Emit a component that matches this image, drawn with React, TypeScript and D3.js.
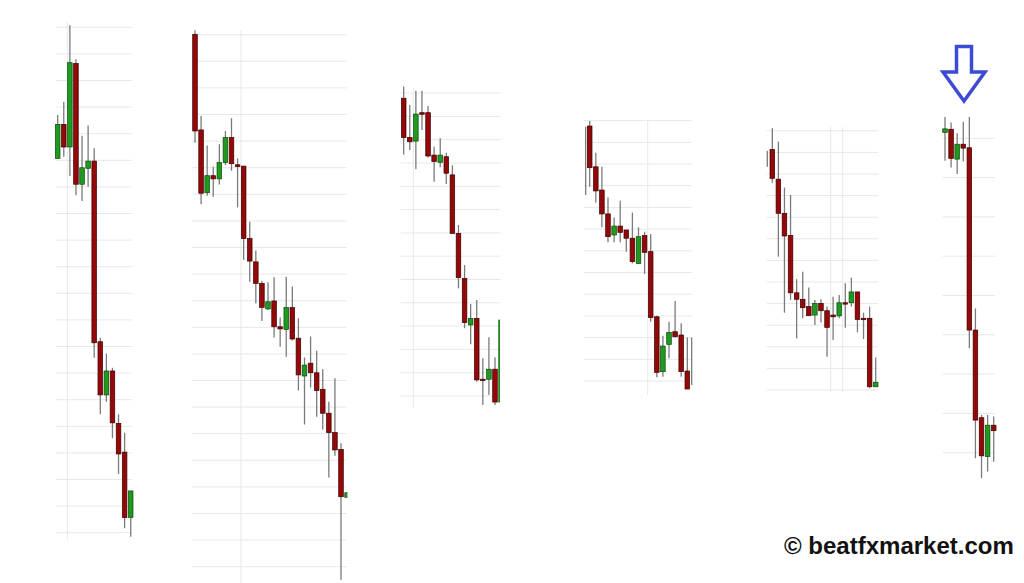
import * as d3 from 'd3';

// [open, high, low, close] in pips above each panel's lowest gridline
type Candle = [number, number, number, number];
type Wick = { i: number; high: number; low: number };

const panel1Candles: Candle[] = [
  [140.7, 157.0, 140.7, 153.5],
  [153.5, 162.0, 141.3, 145.0],
  [145.0, 190.8, 134.1, 176.7],
  [176.4, 178.0, 126.9, 131.0],
  [131.0, 149.2, 124.7, 137.2],
  [137.0, 153.1, 130.1, 139.7],
  [139.7, 144.5, 65.8, 71.4],
  [71.8, 73.2, 44.5, 51.8],
  [51.8, 67.4, 49.2, 60.8],
  [60.8, 62.0, 35.5, 41.3],
  [41.1, 44.5, 22.1, 29.6],
  [30.3, 37.6, 1.7, 5.7],
  [5.7, 15.7, -1.5, 15.7],
];

const panel2Candles: Candle[] = [
  [200.1, 201.7, 159.4, 163.8],
  [164.2, 169.4, 136.3, 140.4],
  [140.6, 158.3, 139.5, 147.0],
  [147.0, 150.4, 139.1, 145.8],
  [145.8, 158.8, 143.7, 151.9],
  [151.9, 163.8, 151.0, 161.3],
  [161.3, 168.6, 148.9, 151.5],
  [151.1, 153.5, 135.1, 150.4],
  [150.6, 150.6, 115.3, 123.4],
  [123.4, 129.7, 107.1, 114.9],
  [114.6, 118.9, 99.0, 106.5],
  [106.5, 107.4, 92.4, 97.5],
  [96.9, 106.9, 96.5, 99.6],
  [99.9, 108.8, 86.2, 90.2],
  [90.2, 93.7, 82.7, 89.4],
  [89.2, 109.0, 78.9, 97.4],
  [97.4, 105.3, 85.0, 85.6],
  [85.9, 93.4, 66.2, 72.1],
  [71.7, 78.6, 53.5, 75.8],
  [76.5, 86.5, 67.4, 72.9],
  [72.9, 81.2, 56.4, 66.2],
  [66.7, 74.2, 51.6, 57.7],
  [57.7, 62.0, 33.5, 50.4],
  [50.4, 70.8, 41.7, 43.9],
  [44.1, 46.4, -5.0, 26.3],
  [26.1, 27.8, 26.1, 27.8],
];

const panel3Candles: Candle[] = [
  [127.8, 132.8, 103.7, 110.9],
  [111.0, 124.9, 105.6, 109.1],
  [109.4, 131.0, 97.3, 121.0],
  [121.6, 131.0, 114.2, 120.9],
  [121.6, 124.5, 102.4, 103.0],
  [103.4, 107.0, 92.0, 100.6],
  [100.3, 110.6, 98.2, 103.4],
  [102.7, 104.4, 91.0, 95.6],
  [94.9, 99.0, 69.8, 69.8],
  [69.8, 73.4, 46.2, 50.8],
  [50.5, 56.2, 29.1, 31.5],
  [30.5, 39.5, 22.2, 33.3],
  [33.3, 41.2, 6.1, 6.9],
  [7.2, 16.2, -3.9, 6.6],
  [7.2, 25.2, 0.4, 11.5],
  [11.5, 16.6, -3.9, -2.6],
  [-2.6, 32.6, -2.6, 32.6],
];

const panel4Candles: Candle[] = [
  [117.5, 119.8, 89.5, 98.3],
  [98.7, 105.2, 82.3, 87.6],
  [88.0, 98.7, 70.8, 77.0],
  [77.0, 84.6, 63.9, 66.5],
  [67.3, 75.4, 63.9, 71.4],
  [71.4, 83.1, 63.9, 68.5],
  [69.6, 69.6, 59.6, 65.8],
  [65.8, 77.6, 54.2, 55.0],
  [54.2, 70.8, 53.9, 66.5],
  [67.0, 68.8, 49.3, 59.3],
  [59.6, 67.7, 27.3, 29.2],
  [29.6, 30.1, 1.7, 4.0],
  [4.3, 20.9, 2.0, 16.1],
  [16.9, 27.3, 10.5, 22.4],
  [22.7, 36.9, 20.0, 20.4],
  [21.2, 26.6, 2.0, 4.3],
  [4.6, 20.0, -3.7, -3.7],
];
const panel4Wicks: Wick[] = [
  { i: -0.66, high: 117.2, low: 85.7 },
  { i: 16.72, high: 20.0, low: -1.8 },
];

const panel5Candles: Candle[] = [
  [111.4, 121.2, 96.0, 98.0],
  [97.6, 115.0, 61.7, 81.8],
  [81.8, 93.7, 35.8, 71.3],
  [71.6, 90.3, 41.7, 45.0],
  [45.0, 51.3, 23.9, 42.0],
  [42.0, 54.8, 33.2, 38.1],
  [38.6, 47.4, 34.3, 34.4],
  [34.7, 41.7, 30.1, 40.1],
  [40.1, 42.0, 31.2, 36.7],
  [36.7, 38.6, 15.4, 29.0],
  [34.7, 43.2, 23.2, 33.9],
  [34.3, 44.0, 33.2, 40.4],
  [40.4, 49.4, 28.8, 40.0],
  [40.4, 52.0, 38.6, 45.4],
  [45.4, 45.4, 26.7, 32.7],
  [33.2, 35.8, 23.6, 32.7],
  [33.2, 38.6, 0.8, 1.5],
  [1.5, 15.1, 1.5, 3.6],
];
const panel5Wicks: Wick[] = [{ i: -0.82, high: 110.8, low: 103.4 }];

const panel6Candles: Candle[] = [
  [81.5, 85.4, 74.3, 82.4],
  [82.3, 84.0, 72.6, 74.9],
  [74.7, 81.3, 70.9, 78.5],
  [78.5, 84.2, 74.1, 77.5],
  [77.6, 85.4, 26.6, 31.2],
  [31.2, 36.7, -1.4, 8.3],
  [8.9, 9.6, -6.5, -0.8],
  [-1.0, 9.6, -4.8, 7.0],
  [7.0, 9.2, -2.3, 5.6],
];

const watermark = '\u00a9 beatfxmarket.com';

interface Panel {
  candles: Candle[];
  wicks?: Wick[];
  levels: number[];
  yRange: [number, number];
  xRange: [number, number];
  gridX: [number, number];
  vLines: number[];
  vSpan: [number, number];
  clipRight?: number;
}

const panels: Panel[] = [
  { candles: panel1Candles, levels: d3.range(0, 191, 10), yRange: [532.7, 27.3], xRange: [57.7, 130.7], gridX: [56, 132], vLines: [1.58], vSpan: [22, 540] },
  { candles: panel2Candles, levels: d3.range(0, 201, 10), yRange: [566.7, 34.7], xRange: [195, 341], gridX: [191.7, 346.7], vLines: [7.56], vSpan: [30, 583], clipRight: 347.3 },
  { candles: panel3Candles, levels: d3.range(0, 131, 10), yRange: [396, 93.1], xRange: [403.7, 495], gridX: [400.7, 500.7], vLines: [1.58], vSpan: [88, 408], clipRight: 499.9 },
  { candles: panel4Candles, wicks: panel4Wicks, levels: d3.range(0, 121, 10), yRange: [381, 120.6], xRange: [589.7, 687.3], gridX: [584, 692], vLines: [9.51], vSpan: [120, 395] },
  { candles: panel5Candles, wicks: panel5Wicks, levels: d3.range(0, 121, 10), yRange: [390, 130.8], xRange: [772.3, 875.7], gridX: [766.7, 878.3], vLines: [9.6, 11.58], vSpan: [127, 392] },
  { candles: panel6Candles, levels: d3.range(0, 81, 10), yRange: [452.7, 138.3], xRange: [945, 993.7], gridX: [942.7, 995], vLines: [], vSpan: [0, 0] },
];

const UP = '#1e9a1e';
const UP_EDGE = '#0c4a0c';
const DOWN = '#930808';
const DOWN_EDGE = '#3d0000';
const WICK = '#7b7b7b';
const GRID = '#e8e8e8';
const BODY_W = 4.6;

function CandlePanel({ p, idx }: { p: Panel; idx: number }) {
  const full = p.clipRight ? p.candles.length - 2 : p.candles.length - 1;
  const x = d3.scaleLinear().domain([0, full]).range(p.xRange);
  const y = d3.scaleLinear().domain([0, p.levels[p.levels.length - 1]]).range(p.yRange);
  const clipId = `clip-${idx}`;
  return (
    <g>
      {p.clipRight && (
        <defs>
          <clipPath id={clipId}>
            <rect x={0} y={0} width={p.clipRight} height={583} />
          </clipPath>
        </defs>
      )}
      {p.levels.map(l => (
        <line key={l} x1={p.gridX[0]} x2={p.gridX[1]} y1={y(l)} y2={y(l)} stroke={GRID} strokeWidth={1} />
      ))}
      {p.vLines.map(v => (
        <line key={v} x1={x(v)} x2={x(v)} y1={p.vSpan[0]} y2={p.vSpan[1]} stroke={GRID} strokeWidth={1} />
      ))}
      <g clipPath={p.clipRight ? `url(#${clipId})` : undefined}>
        {(p.wicks || []).map((w, i) => (
          <line key={'w' + i} x1={x(w.i)} x2={x(w.i)} y1={y(w.high)} y2={y(w.low)} stroke={WICK} strokeWidth={1.3} />
        ))}
        {p.candles.map(([o, h, l, c], i) => {
          const up = c > o;
          const top = y(Math.max(o, c));
          const hgt = Math.max(1.4, Math.abs(y(o) - y(c)));
          return (
            <g key={i}>
              <line x1={x(i)} x2={x(i)} y1={y(h)} y2={y(l)} stroke={WICK} strokeWidth={1.3} />
              <rect x={x(i) - BODY_W / 2} y={top} width={BODY_W} height={hgt}
                fill={up ? UP : DOWN} stroke={up ? UP_EDGE : DOWN_EDGE} strokeWidth={0.7} />
            </g>
          );
        })}
      </g>
    </g>
  );
}

export default function App() {
  // down arrow above the last panel
  const arrow = d3.path();
  arrow.moveTo(956.5, 46.5);
  arrow.lineTo(971.5, 46.5);
  arrow.lineTo(971.5, 72);
  arrow.lineTo(985, 72);
  arrow.lineTo(964, 101);
  arrow.lineTo(943, 72);
  arrow.lineTo(956.5, 72);
  arrow.closePath();

  return (
    <svg width={1024} height={583} style={{ position: 'absolute', left: 0, top: 0, display: 'block', background: '#fff' }}>
      <rect width={1024} height={583} fill="#fff" />
      {panels.map((p, i) => <CandlePanel key={i} p={p} idx={i} />)}
      <path d={arrow.toString()} fill="#fff" stroke="#3d4bd4" strokeWidth={3.5} strokeLinejoin="miter" />
      <text x={784} y={554} fontFamily="'Liberation Sans', Arial, sans-serif" fontWeight="bold" fontSize={24} fill="#111">
        {watermark}
      </text>
    </svg>
  );
}
